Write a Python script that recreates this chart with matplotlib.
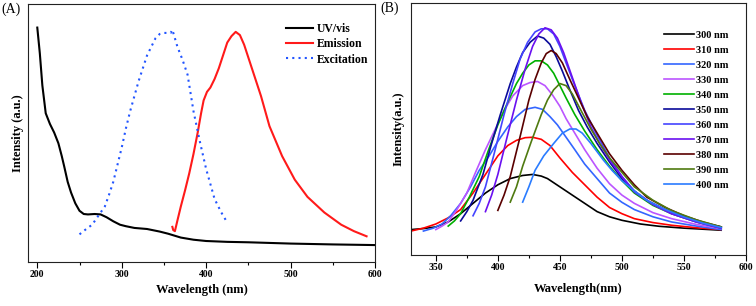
import matplotlib
matplotlib.use("Agg")
import matplotlib.pyplot as plt

plt.rcParams['font.family'] = ['Liberation Serif', 'DejaVu Serif']
plt.rcParams['font.weight'] = 'bold'
plt.rcParams['axes.labelweight'] = 'bold'

# ---- panel A data (intensity in a.u.) ----
uv_wl = [200, 203, 206, 210, 215, 220, 225, 229, 232, 236, 240, 245, 250, 255, 260,
         268, 275, 282, 290, 298, 305, 315, 330, 345, 355, 370, 385, 400, 425, 450,
         500, 550, 600]
uv_int = [1.02, 0.90, 0.75, 0.62, 0.57, 0.53, 0.48, 0.42, 0.37, 0.30, 0.25, 0.20, 0.165,
          0.15, 0.148, 0.15, 0.148, 0.135, 0.116, 0.10, 0.093, 0.085, 0.08, 0.068, 0.058,
          0.04, 0.03, 0.024, 0.02, 0.018, 0.012, 0.008, 0.005]

em_wl = [360, 361, 363, 366, 370, 375, 380, 385, 390, 394, 397, 401, 405, 410, 415, 420,
         425, 430, 435, 440, 445, 450, 455, 465, 475, 490, 505, 520, 540, 560, 575, 590]
em_int = [0.09, 0.075, 0.07, 0.12, 0.185, 0.26, 0.34, 0.43, 0.53, 0.62, 0.68, 0.72, 0.74,
          0.78, 0.83, 0.89, 0.95, 0.98, 1.0, 0.985, 0.94, 0.88, 0.82, 0.70, 0.56, 0.42,
          0.31, 0.23, 0.157, 0.10, 0.07, 0.046]

ex_wl = [250, 258, 265, 272, 280, 285, 290, 295, 300, 305, 310, 315, 320, 325, 330, 335,
         340, 345, 350, 355, 358, 360, 363, 366, 372, 378, 385, 393, 400, 405, 410, 418, 425]
ex_int = [0.055, 0.08, 0.10, 0.14, 0.185, 0.24, 0.30, 0.38, 0.46, 0.55, 0.63, 0.70, 0.77,
          0.83, 0.89, 0.93, 0.97, 0.99, 0.995, 0.995, 0.995, 1.01, 0.97, 0.93, 0.87, 0.80,
          0.63, 0.48, 0.36, 0.29, 0.22, 0.157, 0.11]

# ---- panel B data: emission for each excitation wavelength ----
exc_labels = ['300 nm', '310 nm', '320 nm', '330 nm', '340 nm', '350 nm',
              '360 nm', '370 nm', '380 nm', '390 nm', '400 nm']
exc_colors = ['#000000', '#ff0000', '#3366ff', '#bb55ff', '#00b000', '#0a0a9a',
              '#4444ff', '#6a10f0', '#5a0000', '#4f7a10', '#2a7cff']

b_wl = [
    [330, 340, 350, 360, 370, 380, 390, 400, 410, 420, 428, 435, 440, 450, 460, 470,
     480, 490, 500, 515, 530, 550, 580],
    [330, 340, 350, 360, 370, 380, 390, 400, 408, 415, 422, 428, 435, 442, 450, 460,
     470, 480, 490, 500, 510, 525, 540, 560, 580],
    [340, 348, 355, 362, 370, 378, 385, 393, 400, 408, 415, 422, 430, 436, 442, 448,
     455, 462, 470, 480, 490, 500, 510, 525, 540, 560, 580],
    [350, 355, 360, 367, 375, 382, 390, 398, 405, 412, 420, 426, 432, 438, 444, 450,
     455, 462, 470, 480, 490, 500, 510, 525, 540, 560, 580],
    [360, 365, 370, 377, 385, 392, 400, 408, 415, 420, 425, 430, 435, 440, 445, 450,
     455, 462, 470, 480, 490, 500, 510, 525, 540, 560, 580],
    [370, 375, 380, 388, 395, 402, 410, 415, 420, 426, 432, 437, 442, 447, 452, 458,
     465, 472, 480, 490, 500, 510, 520, 535, 550, 565, 580],
    [380, 385, 390, 397, 405, 412, 418, 424, 430, 435, 440, 445, 450, 455, 462, 470,
     480, 490, 500, 510, 525, 540, 560, 580],
    [390, 395, 400, 407, 415, 422, 428, 433, 438, 443, 448, 453, 460, 467, 475, 482,
     490, 500, 510, 525, 540, 560, 580],
    [400, 405, 410, 417, 425, 430, 435, 439, 443, 447, 452, 458, 465, 472, 480, 490,
     500, 510, 520, 535, 550, 565, 580],
    [410, 415, 420, 427, 435, 440, 445, 450, 455, 460, 467, 475, 482, 490, 500, 510,
     525, 540, 560, 580],
    [420, 425, 430, 437, 445, 452, 458, 463, 468, 475, 485, 492, 500, 510, 520, 535,
     550, 565, 580],
]
b_int = [
    [0.013, 0.018, 0.026, 0.05, 0.09, 0.14, 0.19, 0.23, 0.26, 0.275, 0.28, 0.272, 0.26,
     0.22, 0.18, 0.14, 0.10, 0.075, 0.058, 0.04, 0.029, 0.02, 0.01],
    [0.006, 0.02, 0.04, 0.07, 0.11, 0.19, 0.28, 0.37, 0.42, 0.445, 0.458, 0.46, 0.45,
     0.42, 0.36, 0.29, 0.23, 0.17, 0.12, 0.09, 0.066, 0.047, 0.034, 0.022, 0.013],
    [0.006, 0.02, 0.04, 0.08, 0.14, 0.22, 0.30, 0.37, 0.44, 0.51, 0.56, 0.595, 0.605,
     0.595, 0.56, 0.52, 0.46, 0.40, 0.33, 0.26, 0.19, 0.145, 0.11, 0.075, 0.05, 0.03, 0.013],
    [0.013, 0.03, 0.05, 0.11, 0.19, 0.29, 0.40, 0.50, 0.59, 0.66, 0.71, 0.725, 0.73,
     0.71, 0.665, 0.61, 0.55, 0.48, 0.40, 0.31, 0.235, 0.18, 0.14, 0.095, 0.066, 0.038, 0.018],
    [0.03, 0.055, 0.09, 0.17, 0.27, 0.39, 0.52, 0.63, 0.72, 0.77, 0.81, 0.83, 0.83,
     0.81, 0.77, 0.71, 0.65, 0.57, 0.49, 0.40, 0.32, 0.25, 0.19, 0.13, 0.09, 0.05, 0.02],
    [0.055, 0.10, 0.155, 0.28, 0.43, 0.57, 0.72, 0.80, 0.87, 0.92, 0.95, 0.94, 0.91,
     0.85, 0.78, 0.69, 0.59, 0.51, 0.43, 0.34, 0.26, 0.20, 0.155, 0.11, 0.074, 0.045, 0.026],
    [0.08, 0.14, 0.22, 0.38, 0.57, 0.72, 0.84, 0.92, 0.97, 0.985, 0.985, 0.96, 0.90,
     0.82, 0.71, 0.59, 0.47, 0.36, 0.27, 0.20, 0.135, 0.09, 0.05, 0.02],
    [0.10, 0.18, 0.28, 0.45, 0.64, 0.79, 0.90, 0.96, 0.99, 0.98, 0.94, 0.87, 0.75,
     0.63, 0.51, 0.43, 0.35, 0.27, 0.195, 0.135, 0.09, 0.05, 0.02],
    [0.106, 0.18, 0.27, 0.44, 0.64, 0.74, 0.82, 0.865, 0.88, 0.865, 0.82, 0.74, 0.65,
     0.56, 0.48, 0.38, 0.30, 0.23, 0.17, 0.12, 0.08, 0.05, 0.026],
    [0.146, 0.22, 0.32, 0.44, 0.57, 0.64, 0.69, 0.72, 0.71, 0.67, 0.59, 0.50, 0.43,
     0.36, 0.29, 0.22, 0.155, 0.105, 0.06, 0.026],
    [0.146, 0.22, 0.30, 0.37, 0.43, 0.48, 0.50, 0.50, 0.48, 0.43, 0.35, 0.30, 0.25,
     0.20, 0.155, 0.11, 0.074, 0.045, 0.023],
]

W, H = 756, 306
fig = plt.figure(figsize=(W / 100, H / 100), dpi=100)


def style_axis(ax):
    for sp in ax.spines.values():
        sp.set_linewidth(0.8)
        sp.set_color('#222222')
    ax.set_yticks([])
    ax.tick_params(axis='x', which='major', direction='out', length=4, width=0.8,
                   labelsize=7, pad=2)
    ax.tick_params(axis='x', which='minor', direction='out', length=2, width=0.8)
    for lab in ax.get_xticklabels():
        lab.set_fontweight('bold')


# ---- panel A ----
axA = fig.add_axes([28 / W, 1 - 262 / H, 347 / W, 258 / H])
axA.plot(uv_wl, uv_int, color='black', lw=1.5, label='UV/vis')
axA.plot(em_wl, em_int, color='#ff1a1a', lw=1.5, label='Emission')
axA.plot(ex_wl, ex_int, color='#2255ff', lw=1.5, linestyle=(0, (1, 2)), label='Excitation')
axA.set_xlim(189, 600)
axA.set_ylim(-0.074, 1.13)
axA.set_xticks([200, 300, 400, 500, 600])
axA.set_xticks([250, 350, 450, 550], minor=True)
style_axis(axA)
axA.set_xlabel('Wavelength (nm)', labelpad=3, fontsize=9, fontweight='bold')
axA.set_ylabel('Intensity (a.u.)', labelpad=3, fontsize=9, fontweight='bold')
axA.legend(loc='upper left', bbox_to_anchor=(280 / W, 1 - 17 / H),
           bbox_transform=fig.transFigure, frameon=False, borderpad=0,
           handlelength=2.3, handletextpad=0.35, labelspacing=0.28,
           prop=dict(weight='bold', size=8.5))
fig.text(1 / W, 1 - 3 / H, '(A)', fontsize=10, fontweight='normal', va='top', ha='left')

# ---- panel B ----
axB = fig.add_axes([411 / W, 1 - 255 / H, 335 / W, 252 / H])
for wl, val, lab, col in zip(b_wl, b_int, exc_labels, exc_colors):
    axB.plot(wl, val, color=col, lw=1.2, label=lab)
axB.set_xlim(330, 600)
axB.set_ylim(-0.11, 1.11)
axB.set_xticks([350, 400, 450, 500, 550, 600])
axB.set_xticks([375, 425, 475, 525, 575], minor=True)
style_axis(axB)
axB.set_xlabel('Wavelength(nm)', labelpad=8, fontsize=9, fontweight='bold')
axB.set_ylabel('Intensity(a.u.)', labelpad=5, fontsize=9, fontweight='bold')
axB.legend(loc='upper left', bbox_to_anchor=(659 / W, 1 - 25 / H),
           bbox_transform=fig.transFigure, frameon=False, borderpad=0,
           handlelength=2.9, handletextpad=0.15, labelspacing=0.55,
           prop=dict(weight='bold', size=7.5))
fig.text(380 / W, 1 - 2 / H, '(B)', fontsize=10, fontweight='normal', va='top', ha='left')

fig.savefig('out.png', dpi=100)
